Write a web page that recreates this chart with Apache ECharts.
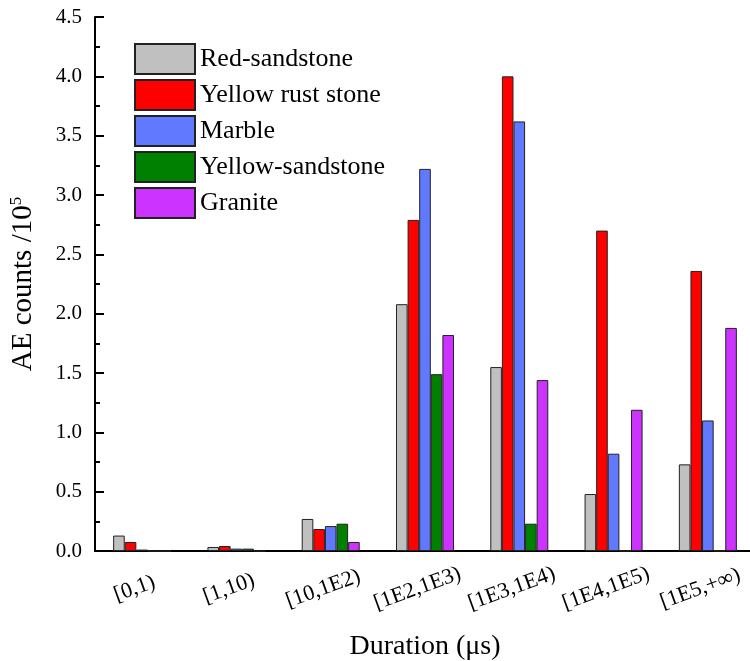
<!DOCTYPE html>
<html>
<head>
<meta charset="utf-8">
<title>AE counts by duration</title>
<script src="https://cdn.jsdelivr.net/npm/echarts@6/dist/echarts.min.js"></script>
<style>
  html, body { margin: 0; padding: 0; background: #fff; }
  #chart { width: 750px; height: 661px; }
</style>
</head>
<body>
<div id="chart"></div>
<script>
/* ===== Data ===== */
const categories = ['[0,1)', '[1,10)', '[10,1E2)', '[1E2,1E3)', '[1E3,1E4)', '[1E4,1E5)', '[1E5,+∞)'];
const seriesNames = ['Red-sandstone', 'Yellow rust stone', 'Marble', 'Yellow-sandstone', 'Granite'];

const redSandstone    = [0.13, 0.034, 0.27, 2.08, 1.55, 0.48, 0.73];
const yellowRust      = [0.076, 0.042, 0.185, 2.79, 4.00, 2.70, 2.36];
const marble          = [0.012, 0.02, 0.21, 3.22, 3.62, 0.82, 1.10];
const yellowSandstone = [0, 0.02, 0.23, 1.49, 0.23, 0, 0];
const granite         = [0, 0, 0.076, 1.82, 1.44, 1.19, 1.88];

const seriesData = [redSandstone, yellowRust, marble, yellowSandstone, granite];
const colors = ['#C0C0C0', '#FF0000', '#6179FF', '#008000', '#CC33FF'];

/* ===== Chart ===== */
const FONT = "'Liberation Serif', 'Times New Roman', serif";
const chart = echarts.init(document.getElementById('chart'));

const option = {
    animation: false,
    textStyle: { fontFamily: FONT, color: '#000' },
    grid: {
        left: 95,
        right: -5,
        top: 17,
        bottom: 110,
        outerBoundsMode: 'none',
        containLabel: false
    },
    legend: {
        orient: 'vertical',
        left: 134,
        top: 43,
        padding: 0,
        itemWidth: 60,
        itemHeight: 30,
        itemGap: 4,
        icon: 'rect',
        textStyle: { fontFamily: FONT, fontSize: 26, lineHeight: 30, color: '#000' },
        data: seriesNames
    },
    xAxis: {
        type: 'category',
        data: categories,
        name: 'Duration (μs)',
        nameLocation: 'middle',
        nameGap: 82,
        nameTextStyle: { fontFamily: FONT, fontSize: 28, color: '#000' },
        axisLine: { lineStyle: { color: '#000', width: 2 } },
        axisTick: { inside: true, length: 9, interval: 0, lineStyle: { color: '#000', width: 2 } },
        axisLabel: {
            interval: 0,
            rotate: 20,
            align: 'center',
            verticalAlign: 'middle',
            margin: 35,
            padding: [0, 16, 0, 0],
            fontFamily: FONT,
            fontSize: 22,
            color: '#000'
        },
        splitLine: { show: false }
    },
    yAxis: {
        type: 'value',
        min: 0,
        max: 4.5,
        interval: 0.5,
        name: 'AE counts /10{sup|5}',
        nameLocation: 'middle',
        nameRotate: 90,
        nameGap: 56,
        nameTextStyle: {
            fontFamily: FONT,
            fontSize: 29,
            color: '#000',
            rich: {
                sup: { fontFamily: FONT, fontSize: 17, color: '#000', verticalAlign: 'top', padding: [0, 0, 14, 0] }
            }
        },
        axisLine: { show: true, lineStyle: { color: '#000', width: 2 } },
        axisTick: { show: true, inside: true, length: 9, lineStyle: { color: '#000', width: 2 } },
        minorTick: { show: true, splitNumber: 2, length: 5, lineStyle: { color: '#000', width: 2 } },
        axisLabel: {
            margin: 13,
            fontFamily: FONT,
            fontSize: 21,
            color: '#000',
            formatter: v => v.toFixed(1)
        },
        splitLine: { show: false }
    },
    series: seriesNames.map((name, i) => ({
        name: name,
        type: 'bar',
        data: seriesData[i],
        barWidth: 11.6,
        barGap: '0%',
        itemStyle: {
            color: colors[i],
            borderColor: '#222',
            borderWidth: 1
        }
    }))
};

chart.setOption(option);
window.addEventListener('resize', () => chart.resize());
</script>
</body>
</html>
